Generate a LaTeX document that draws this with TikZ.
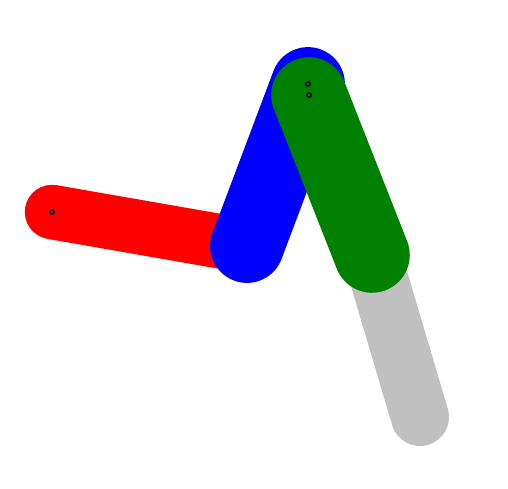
\documentclass[tikz,border=0pt]{standalone}
\usetikzlibrary{calc}
\definecolor{linkgreen}{RGB}{0,128,0}
\definecolor{linkgray}{RGB}{192,192,192}
\begin{document}
\begin{tikzpicture}[x=0.02cm,y=-0.02cm,line cap=round]
	% Bras articule
	\def\wa{31pt}
	\def\wb{42pt}
	\def\wc{43pt}
	\def\wd{33pt}
	\useasboundingbox (0,0) rectangle (508,488);
	\coordinate (A) at (52,212);
	\coordinate (B) at (247,246);
	\coordinate (C) at (308,84);
	\coordinate (D) at (309,95);
	\coordinate (E) at (372,255);
	\coordinate (F) at (420,417);
	\draw[linkgray,line width=\wd](E)--(F);
	\draw[red,line width=\wa](A)--(B);
	\draw[blue,line width=\wb](B)--(C);
	\draw[linkgreen,line width=\wc](D)--(E);
	\foreach \p in {A,C,D}
		\draw[line width=0.8pt](\p) circle (2.2);
\end{tikzpicture}
\end{document}
